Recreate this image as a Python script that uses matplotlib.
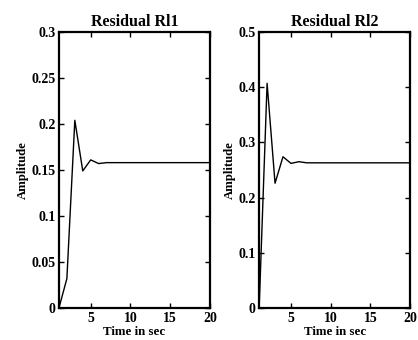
import matplotlib.pyplot as plt

plt.rcParams['font.family'] = 'Liberation Serif'
plt.rcParams['font.weight'] = 'bold'

# time steps (sec)
t = [1, 2, 3, 4, 5, 6, 7, 8, 9, 10, 11, 12, 13, 14, 15, 16, 17, 18, 19, 20]

# residual responses
rl1 = [0.0, 0.032, 0.204, 0.149, 0.161, 0.157, 0.158, 0.158, 0.158, 0.158,
       0.158, 0.158, 0.158, 0.158, 0.158, 0.158, 0.158, 0.158, 0.158, 0.158]
rl2 = [0.0, 0.407, 0.226, 0.274, 0.262, 0.265, 0.263, 0.263, 0.263, 0.263,
       0.263, 0.263, 0.263, 0.263, 0.263, 0.263, 0.263, 0.263, 0.263, 0.263]

titles = ['Residual Rl1', 'Residual Rl2']
ylims = [0.3, 0.5]
yticks = [[0, 0.05, 0.1, 0.15, 0.2, 0.25, 0.3],
          [0, 0.1, 0.2, 0.3, 0.4, 0.5]]
yticklabels = [['0', '0.05', '0.1', '0.15', '0.2', '0.25', '0.3'],
               ['0', '0.1', '0.2', '0.3', '0.4', '0.5']]

fig = plt.figure(figsize=(4.18, 3.4), dpi=100)
ax1 = fig.add_axes([0.141, 0.094, 0.361, 0.812])
ax2 = fig.add_axes([0.620, 0.094, 0.361, 0.812])

for ax, y, title, ymax, yt, ytl in zip([ax1, ax2], [rl1, rl2], titles, ylims,
                                       yticks, yticklabels):
    ax.plot(t, y, color='black', linewidth=1.0)
    ax.set_xlim(1, 20)
    ax.set_ylim(0, ymax)
    ax.set_xticks([5, 10, 15, 20])
    ax.set_xticklabels(['5', '10', '15', '20'], fontweight='bold')
    ax.set_yticks(yt)
    ax.set_yticklabels(ytl, fontweight='bold')
    ax.tick_params(direction='in', top=True, right=True, length=3.5, width=1,
                   labelsize=10, pad=2.5)
    for s in ax.spines.values():
        s.set_linewidth(1.6)
    ax.set_title(title, fontsize=11.5, fontweight='bold', pad=4)
    ax.set_xlabel('Time in sec', fontsize=9.3, fontweight='bold', labelpad=1)
    ax.set_ylabel('Amplitude', fontsize=9.2, fontweight='bold', labelpad=2)

fig.savefig('out.png', dpi=100)
